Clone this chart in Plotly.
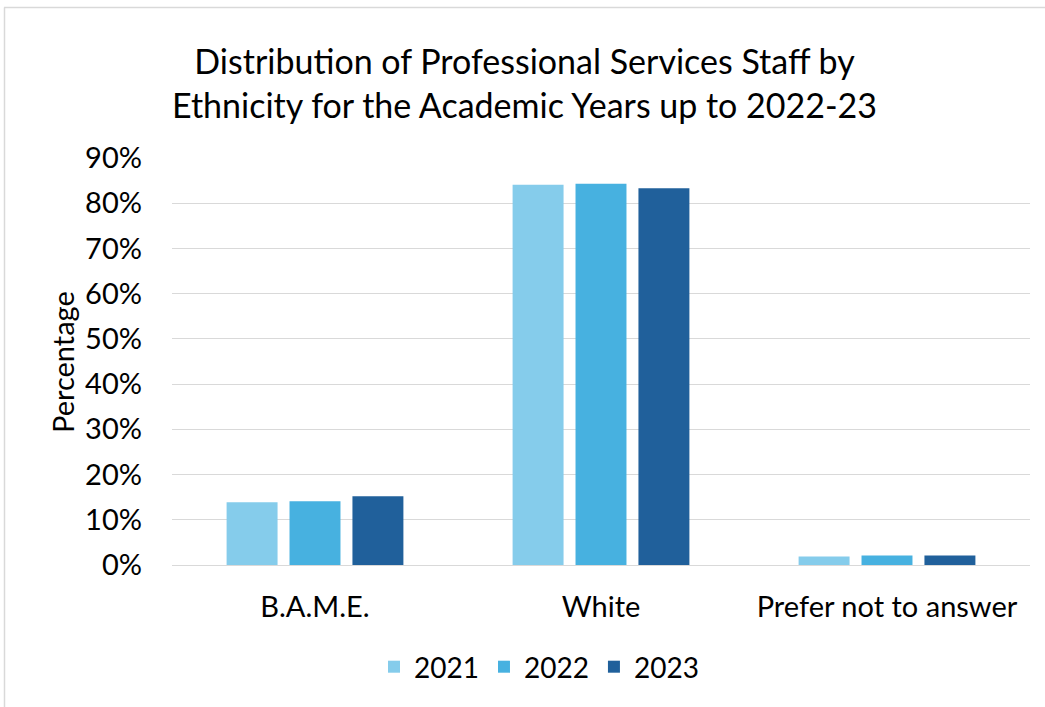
import plotly.graph_objects as go

categories = ["B.A.M.E.", "White", "Prefer not to answer"]
years = ["2021", "2022", "2023"]
values_2021 = [0.139, 0.841, 0.019]
values_2022 = [0.141, 0.843, 0.021]
values_2023 = [0.152, 0.833, 0.021]
colors = ["#85CCEB", "#47B1E0", "#20609B"]
y_ticks = [0, 0.1, 0.2, 0.3, 0.4, 0.5, 0.6, 0.7, 0.8, 0.9]

W, H = 1045, 707
L, R, T, B = 172, 15, 158, 142
pw, ph = W - L - R, H - T - B

def px_x(x):
    return (x - L) / pw

def px_y(y):
    return (H - B - y) / ph

FONT = "Lato, Calibri, Carlito, sans-serif"

fig = go.Figure()
for yr, vals, col in zip(years, [values_2021, values_2022, values_2023], colors):
    fig.add_trace(go.Bar(name=yr, x=categories, y=vals, marker=dict(color=col, line=dict(width=0))))

fig.update_layout(
    width=W, height=H,
    margin=dict(l=L, r=R, t=T, b=B, autoexpand=False),
    paper_bgcolor="white", plot_bgcolor="white",
    barmode="group", bargap=0.34, bargroupgap=0.19,
    font=dict(family=FONT, color="#000000", size=29),
    showlegend=True,
    legend=dict(orientation="h", x=px_x(539), xanchor="center", y=px_y(667), yanchor="middle",
                font=dict(size=28), traceorder="normal"),
    xaxis=dict(showgrid=False, showline=False, ticks="", tickfont=dict(size=29),
               ticklabelstandoff=22),
    yaxis=dict(range=[0, 0.9], tickvals=y_ticks, tickformat=".0%", showgrid=True,
               gridcolor="#D9D9D9", gridwidth=1.3, zeroline=True, zerolinecolor="#D9D9D9",
               zerolinewidth=1.3, showline=False, ticks="", ticklabelstandoff=29,
               tickfont=dict(size=29)),
    annotations=[
        dict(text="Distribution of Professional Services Staff by<br>Ethnicity for the Academic Years up to 2022-23",
             xref="paper", yref="paper", x=px_x(524), y=px_y(82), xanchor="center", yanchor="middle",
             showarrow=False, font=dict(size=34)),
        dict(text="Percentage", xref="paper", yref="paper", x=px_x(62), y=px_y(362), textangle=-90,
             xanchor="center", yanchor="middle", showarrow=False, font=dict(size=29)),
    ],
    shapes=[
        dict(type="line", xref="paper", yref="paper", x0=px_x(4), x1=px_x(1045), y0=px_y(7.5), y1=px_y(7.5),
             line=dict(color="#D9D9D9", width=1.5)),
        dict(type="line", xref="paper", yref="paper", x0=px_x(4.5), x1=px_x(4.5), y0=px_y(7.5), y1=px_y(707),
             line=dict(color="#D9D9D9", width=1.5)),
    ],
)

fig.write_html("out.html")
